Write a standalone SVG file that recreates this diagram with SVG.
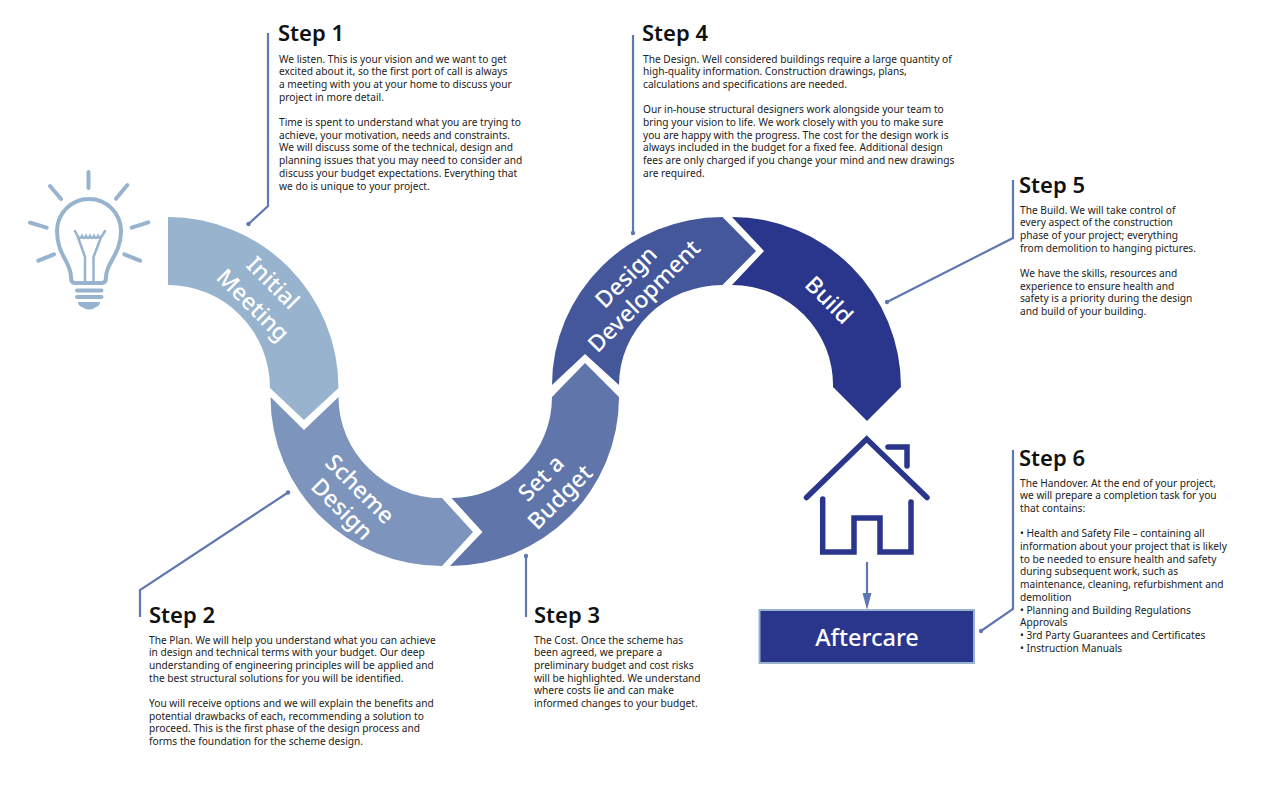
<svg xmlns="http://www.w3.org/2000/svg" width="1265" height="800" viewBox="0 0 1265 800">
<style>
text{font-family:"Noto Sans","Open Sans","Liberation Sans",sans-serif}
.t{font-size:22px;font-weight:600;fill:#111}
.b{font-size:10.18px;fill:#222}
.l{font-size:23px;font-weight:500;fill:#fff;text-anchor:middle}
.c{fill:none;stroke:#5f78b2;stroke-width:2.2}
.d{fill:#5f78b2}
.h{fill:none;stroke:#2a358c;stroke-width:5.5}
.u{fill:none;stroke:#97b3cd;stroke-width:4;stroke-linecap:round}
</style>
<rect width="1265" height="800" fill="#fff"/>
<g id="connectors">
<path class="c" d="M268 33V206L248.500 224"/><circle class="d" cx="248.500" cy="224" r="2.200"/>
<path class="c" d="M140 617V590L288 492.500"/><circle class="d" cx="288" cy="492.500" r="2.200"/>
<path class="c" d="M526 617V556"/><circle class="d" cx="526" cy="556" r="2.200"/>
<path class="c" d="M633 35V233"/><circle class="d" cx="633" cy="233" r="2.200"/>
<path class="c" d="M1013 180V238L887 302"/><circle class="d" cx="887" cy="302" r="2.200"/>
<path class="c" d="M1013 450V609L981 631"/><circle class="d" cx="981" cy="631" r="2.200"/>
<path class="c" d="M867 562V596"/><path d="M862.500 593H871.500L867 610Z" fill="#5f78b2"/>
</g>
<g id="bulb">
<path class="u" d="M75 283Q71 283 71 277C71 262 57 255 57 231A32 32 0 0 1 121 231C121 255 106 262 106 277Q106 283 102 283Z"/>
<path class="u" style="stroke-width:2.500" d="M75 231L77.500 236Q80 240 82 236Q84 240 86 236Q88 240 90 236Q92 240 94 236Q96 240 98 236Q100 240 102 236L105 231M77.500 236L85 257V282M101.500 236L93.500 257V282"/>
<path class="u" d="M77 290.500H101.500M77 297H101.500"/>
<path d="M78 302H100Q100 306 96 307Q89 312 82 307Q78 306 78 302Z" fill="#97b3cd"/>
<path class="u" d="M88.500 172V188M50 186L61 199M127.300 185L116 198.700M30 222.700L46.700 227.700M148.300 222.300L131.700 227.700M38.300 260.700L54 254.300M140 260.700L124.300 254.300"/>
</g>
<g id="initial-meeting">
<path fill="#97b3cd" d="M168 217A171 171 0 0 1 338.500 388L304 420L270 388A102 103 0 0 0 168 285Z"/>
<text class="l" transform="translate(273 283) rotate(45)" dy="8">Initial</text>
<text class="l" transform="translate(253 305) rotate(45)" dy="8">Meeting</text>
</g>
<g id="scheme-design">
<path fill="#7d95bd" d="M270.500 397L304 430L338.500 397A103 101 0 0 0 442 498L473 532L442 566A171 169 0 0 1 270.500 397Z"/>
<text class="l" transform="translate(360 489) rotate(45)" dy="8">Scheme</text>
<text class="l" transform="translate(342 509) rotate(45)" dy="8">Design</text>
</g>
<g id="set-a-budget">
<path fill="#6076ab" d="M450 566L482.500 532L451.500 498A101 101 0 0 0 552 397L585 363L619 397A169 169 0 0 1 450 566Z"/>
<text class="l" transform="translate(541 478) rotate(-45)" dy="8">Set a</text>
<text class="l" transform="translate(560 497) rotate(-45)" dy="8">Budget</text>
</g>
<g id="design-development">
<path fill="#44579b" d="M552 385L585 354L619 385A103.500 100 0 0 1 722.500 285L756 251L722.500 217A170.500 168 0 0 0 552 385Z"/>
<text class="l" transform="translate(626 277) rotate(-45)" dy="8">Design</text>
<text class="l" transform="translate(644 296) rotate(-45)" dy="8">Development</text>
</g>
<g id="build">
<path fill="#2a358c" d="M732 217L764 251L732 285A101 100 0 0 1 833 387L867 421L901 387A169 170 0 0 0 732 217Z"/>
<text class="l" transform="translate(829 300) rotate(45)" dy="8">Build</text>
</g>
<g id="house">
<path class="h" stroke-linecap="round" d="M806.500 497.500L866.700 439L927 497.500"/>
<path class="h" stroke-linecap="round" d="M888 447H907V466"/>
<path class="h" stroke-linecap="round" d="M822.700 499V552H854V518H880V552H911V502"/>
</g>
<g id="aftercare">
<rect x="759.500" y="610" width="214.500" height="53" fill="#2a358c" stroke="#97b3cd" stroke-width="2"/>
<text x="867" y="646" fill="#fff" text-anchor="middle" style="font-size:23.5px;font-weight:500">Aftercare</text>
</g>
<g id="step1">
<text class="t" x="278" y="41">Step 1</text>
<text class="b"><tspan x="279" y="62.500">We listen. This is your vision and we want to get</tspan><tspan x="279" y="75.200">excited about it, so the first port of call is always</tspan><tspan x="279" y="87.900">a meeting with you at your home to discuss your</tspan><tspan x="279" y="100.600">project in more detail.</tspan><tspan x="279" y="126">Time is spent to understand what you are trying to</tspan><tspan x="279" y="138.700">achieve, your motivation, needs and constraints.</tspan><tspan x="279" y="151.400">We will discuss some of the technical, design and</tspan><tspan x="279" y="164.100">planning issues that you may need to consider and</tspan><tspan x="279" y="176.800">discuss your budget expectations. Everything that</tspan><tspan x="279" y="189.500">we do is unique to your project.</tspan></text>
</g>
<g id="step2">
<text class="t" x="149" y="623">Step 2</text>
<text class="b"><tspan x="149" y="643.500">The Plan. We will help you understand what you can achieve</tspan><tspan x="149" y="656.200">in design and technical terms with your budget. Our deep</tspan><tspan x="149" y="668.900">understanding of engineering principles will be applied and</tspan><tspan x="149" y="681.600">the best structural solutions for you will be identified.</tspan><tspan x="149" y="707">You will receive options and we will explain the benefits and</tspan><tspan x="149" y="719.700">potential drawbacks of each, recommending a solution to</tspan><tspan x="149" y="732.400">proceed. This is the first phase of the design process and</tspan><tspan x="149" y="745.100">forms the foundation for the scheme design.</tspan></text>
</g>
<g id="step3">
<text class="t" x="534" y="623">Step 3</text>
<text class="b"><tspan x="534" y="643.500">The Cost. Once the scheme has</tspan><tspan x="534" y="656.200">been agreed, we prepare a</tspan><tspan x="534" y="668.900">preliminary budget and cost risks</tspan><tspan x="534" y="681.600">will be highlighted. We understand</tspan><tspan x="534" y="694.300">where costs lie and can make</tspan><tspan x="534" y="707">informed changes to your budget.</tspan></text>
</g>
<g id="step4">
<text class="t" x="642" y="41">Step 4</text>
<text class="b"><tspan x="643" y="62.500">The Design. Well considered buildings require a large quantity of</tspan><tspan x="643" y="75.200">high-quality information. Construction drawings, plans,</tspan><tspan x="643" y="87.900">calculations and specifications are needed.</tspan><tspan x="643" y="113.300">Our in-house structural designers work alongside your team to</tspan><tspan x="643" y="126">bring your vision to life. We work closely with you to make sure</tspan><tspan x="643" y="138.700">you are happy with the progress. The cost for the design work is</tspan><tspan x="643" y="151.400">always included in the budget for a fixed fee. Additional design</tspan><tspan x="643" y="164.100">fees are only charged if you change your mind and new drawings</tspan><tspan x="643" y="176.800">are required.</tspan></text>
</g>
<g id="step5">
<text class="t" x="1019" y="193">Step 5</text>
<text class="b"><tspan x="1020" y="213.500">The Build. We will take control of</tspan><tspan x="1020" y="226.200">every aspect of the construction</tspan><tspan x="1020" y="238.900">phase of your project; everything</tspan><tspan x="1020" y="251.600">from demolition to hanging pictures.</tspan><tspan x="1020" y="277">We have the skills, resources and</tspan><tspan x="1020" y="289.700">experience to ensure health and</tspan><tspan x="1020" y="302.400">safety is a priority during the design</tspan><tspan x="1020" y="315.100">and build of your building.</tspan></text>
</g>
<g id="step6">
<text class="t" x="1019" y="466">Step 6</text>
<text class="b"><tspan x="1020" y="486.500">The Handover. At the end of your project,</tspan><tspan x="1020" y="499.200">we will prepare a completion task for you</tspan><tspan x="1020" y="511.900">that contains:</tspan><tspan x="1020" y="537.300">• Health and Safety File – containing all</tspan><tspan x="1020" y="550">information about your project that is likely</tspan><tspan x="1020" y="562.700">to be needed to ensure health and safety</tspan><tspan x="1020" y="575.400">during subsequent work, such as</tspan><tspan x="1020" y="588.100">maintenance, cleaning, refurbishment and</tspan><tspan x="1020" y="600.800">demolition</tspan><tspan x="1020" y="613.500">• Planning and Building Regulations</tspan><tspan x="1020" y="626.200">Approvals</tspan><tspan x="1020" y="638.900">• 3rd Party Guarantees and Certificates</tspan><tspan x="1020" y="651.600">• Instruction Manuals</tspan></text>
</g>
</svg>
